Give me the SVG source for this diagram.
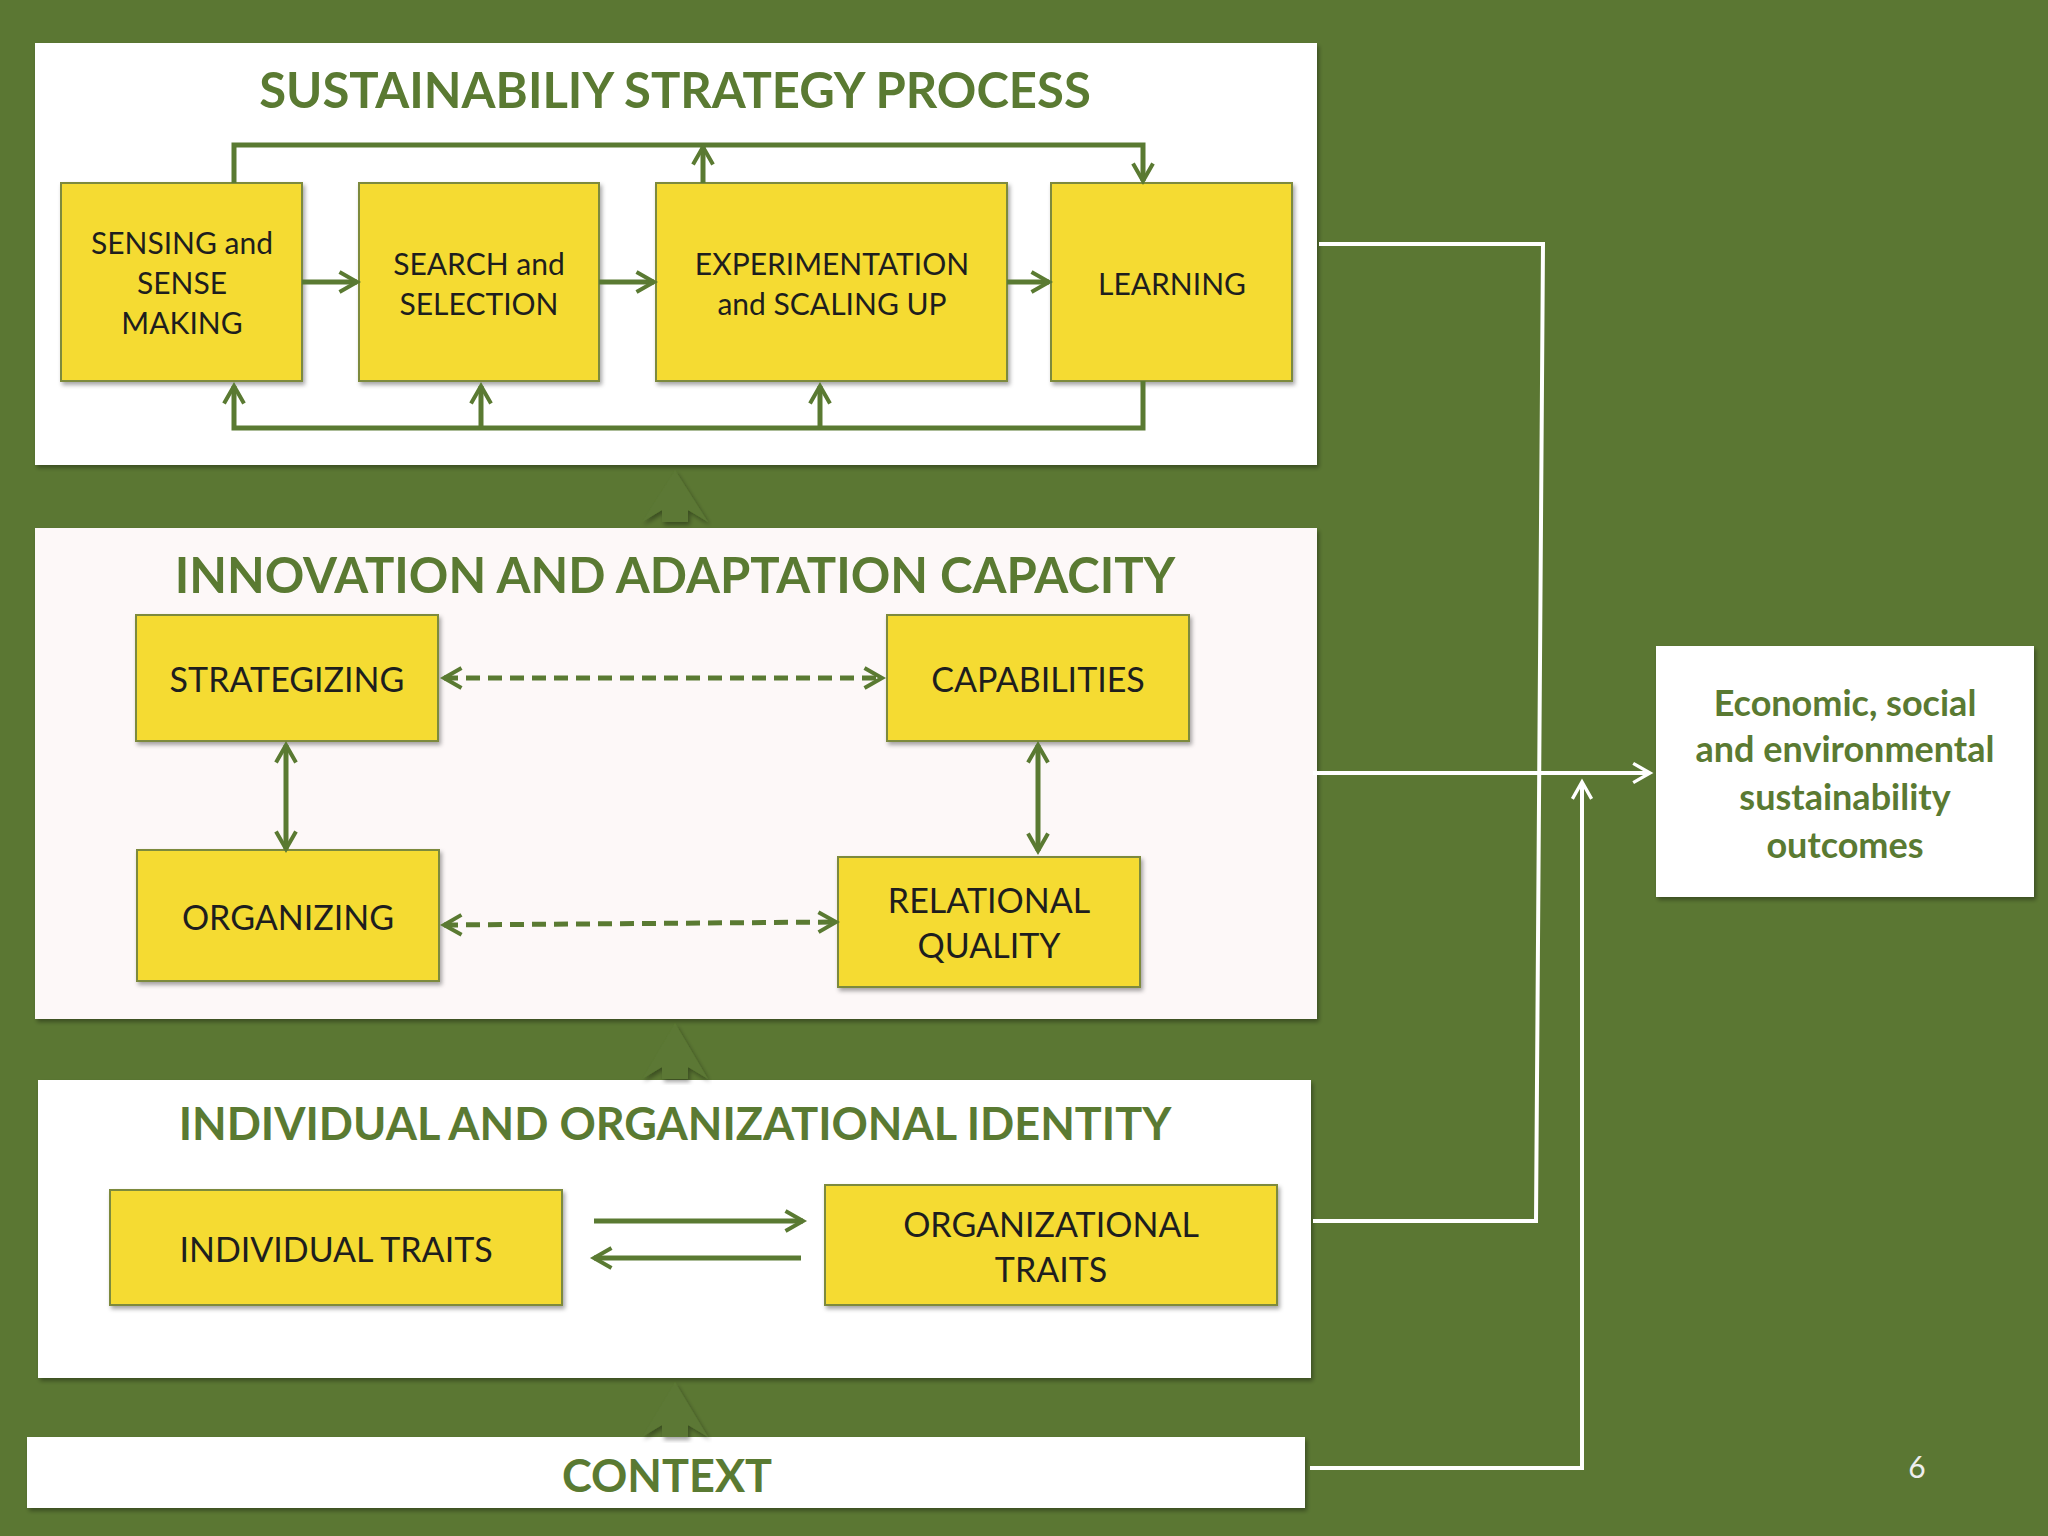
<svg xmlns="http://www.w3.org/2000/svg" width="2048" height="1536" viewBox="0 0 2048 1536">
<defs>
<filter id="sh" x="-5%" y="-5%" width="110%" height="115%"><feDropShadow dx="2" dy="3" stdDeviation="2" flood-color="#000" flood-opacity="0.35"/></filter>
<marker id="ga" viewBox="0 0 10 10" refX="8" refY="5" markerWidth="5" markerHeight="5" orient="auto-start-reverse" markerUnits="strokeWidth"><path d="M1,1 L8,5 L1,9" fill="none" stroke="#5a7a32" stroke-width="1.6"/></marker>
<marker id="wa" viewBox="0 0 10 10" refX="8" refY="5" markerWidth="6" markerHeight="6" orient="auto" markerUnits="strokeWidth"><path d="M1,1 L8,5 L1,9" fill="none" stroke="#fff" stroke-width="1.4"/></marker>
<style>
.panel{fill:#fff;filter:url(#sh)}
.box{fill:#f5db30;stroke:#7d8a3c;stroke-width:2;filter:url(#sh)}
.t{font-family:Lato,"Open Sans",sans-serif;font-size:30px;fill:#1e1e1e;text-anchor:middle}
.h{font-family:Lato,"Open Sans",sans-serif;font-weight:bold;font-size:49px;fill:#5a7a32;text-anchor:middle}
.g{fill:none;stroke:#5a7a32;stroke-width:5}
.w{fill:none;stroke:#fff;stroke-width:4}
.up{fill:#5b7834;filter:url(#sh)}
</style>
</defs>
<rect width="2048" height="1536" fill="#5b7733"/>
<g id="panel-strategy">
<rect class="panel" x="35" y="43" width="1282" height="422"/>
<text class="h" x="675" y="108">SUSTAINABILIY STRATEGY PROCESS</text>
</g>
<g id="panel-innovation">
<rect class="panel" x="35" y="528" width="1282" height="491" style="fill:#fdf8f8"/>
<text class="h" x="675" y="593">INNOVATION AND ADAPTATION CAPACITY</text>
</g>
<g id="panel-identity">
<rect class="panel" x="38" y="1080" width="1273" height="298"/>
<text class="h" x="675" y="1140" style="font-size:45px">INDIVIDUAL AND ORGANIZATIONAL IDENTITY</text>
</g>
<g id="context">
<rect class="panel" x="27" y="1437" width="1278" height="71"/>
<text class="h" x="667" y="1492" style="font-size:45px">CONTEXT</text>
</g>
<g id="sensing"><rect class="box" x="61" y="183" width="241" height="198"/>
<text class="t" x="182" y="254">SENSING and</text><text class="t" x="182" y="294">SENSE</text><text class="t" x="182" y="334">MAKING</text></g>
<g id="search"><rect class="box" x="359" y="183" width="240" height="198"/>
<text class="t" x="479" y="275">SEARCH and</text><text class="t" x="479" y="315">SELECTION</text></g>
<g id="experimentation"><rect class="box" x="656" y="183" width="351" height="198"/>
<text class="t" x="832" y="275">EXPERIMENTATION</text><text class="t" x="832" y="315">and SCALING UP</text></g>
<g id="learning"><rect class="box" x="1051" y="183" width="241" height="198"/>
<text class="t" x="1172" y="295">LEARNING</text></g>
<g id="strategizing"><rect class="box" x="136" y="615" width="302" height="126"/>
<text class="t" x="287" y="692" style="font-size:34px">STRATEGIZING</text></g>
<g id="capabilities"><rect class="box" x="887" y="615" width="302" height="126"/>
<text class="t" x="1038" y="692" style="font-size:34px">CAPABILITIES</text></g>
<g id="organizing"><rect class="box" x="137" y="850" width="302" height="131"/>
<text class="t" x="288" y="930" style="font-size:34px">ORGANIZING</text></g>
<g id="relational"><rect class="box" x="838" y="857" width="302" height="130"/>
<text class="t" x="989" y="913" style="font-size:34px">RELATIONAL</text><text class="t" x="989" y="958" style="font-size:34px">QUALITY</text></g>
<g id="individual"><rect class="box" x="110" y="1190" width="452" height="115"/>
<text class="t" x="336" y="1262" style="font-size:34px">INDIVIDUAL TRAITS</text></g>
<g id="organizational"><rect class="box" x="825" y="1185" width="452" height="120"/>
<text class="t" x="1051" y="1237" style="font-size:34px">ORGANIZATIONAL</text><text class="t" x="1051" y="1282" style="font-size:34px">TRAITS</text></g>
<g id="outcomes"><rect class="panel" x="1656" y="646" width="378" height="251"/>
<g class="h" style="font-size:36px"><text x="1845" y="716">Economic, social</text><text x="1845" y="762">and environmental</text><text x="1845" y="810">sustainability</text><text x="1845" y="858">outcomes</text></g></g>
<text x="1917" y="1478" style="font-family:Lato,sans-serif;font-size:30px;fill:#eee;text-anchor:middle">6</text>
<g id="connectors">
<path class="g" d="M302,282 H357" marker-end="url(#ga)"/>
<path class="g" d="M599,282 H654" marker-end="url(#ga)"/>
<path class="g" d="M1007,282 H1049" marker-end="url(#ga)"/>
<path class="g" d="M234,183 V145 H1143 V181" marker-end="url(#ga)"/>
<path class="g" d="M703,183 V147" marker-end="url(#ga)"/>
<path class="g" d="M1143,381 V428 H234 V386" marker-end="url(#ga)"/>
<path class="g" d="M481,428 V386" marker-end="url(#ga)"/>
<path class="g" d="M820,428 V386" marker-end="url(#ga)"/>
<path class="g" d="M444,678 H882" stroke-dasharray="14,8" marker-start="url(#ga)" marker-end="url(#ga)"/>
<path class="g" d="M444,925 L836,922" stroke-dasharray="14,8" marker-start="url(#ga)" marker-end="url(#ga)"/>
<path class="g" d="M286,745 V849" marker-start="url(#ga)" marker-end="url(#ga)"/>
<path class="g" d="M1038,745 V851" marker-start="url(#ga)" marker-end="url(#ga)"/>
<path class="g" d="M594,1221 H803" marker-end="url(#ga)"/>
<path class="g" d="M801,1258 H594" marker-end="url(#ga)"/>
<path class="up" d="M675,470 L708,522 L688,510 V522 H662 V510 L642,522 Z"/>
<path class="up" d="M675,1023 L708,1079 L688,1067 V1079 H662 V1067 L642,1079 Z"/>
<path class="up" d="M675,1382 L708,1437 L688,1425 V1437 H662 V1425 L642,1437 Z"/>
<path class="w" d="M1319,244 H1543 L1536,1221 H1313"/>
<path class="w" d="M1313,773 H1650" marker-end="url(#wa)"/>
<path class="w" d="M1310,1468 H1582 V782" marker-end="url(#wa)"/>
</g>
</svg>
